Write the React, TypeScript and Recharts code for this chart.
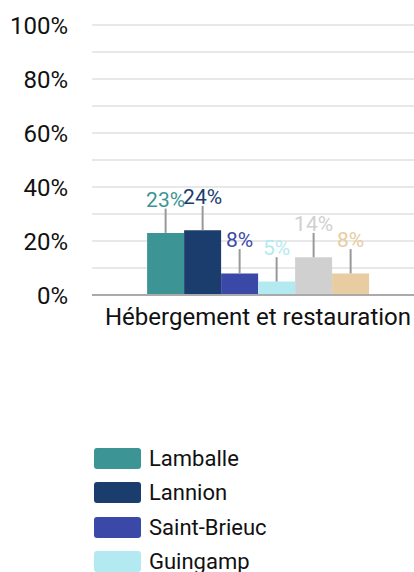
import { BarChart, Bar, XAxis, YAxis, CartesianGrid, Legend, ErrorBar, LabelList } from "recharts"

const category = "Hébergement et restauration"
const towns = ["Lamballe", "Lannion", "Saint-Brieuc", "Guingamp", "Côtes-d'Armor", "Bretagne"]
const colors = ["#3d9494", "#1b3d6e", "#3a48a8", "#b3eaf2", "#d0d0d0", "#e8cca2"]
const values = [23, 24, 8, 5, 14, 8]
const errors = [9, 9, 9, 9, 9, 9]
const yTicks = [0, 10, 20, 30, 40, 50, 60, 70, 80, 90, 100]

const PLOT_TOP = 25
const PLOT_HEIGHT = 270
const pxPerUnit = PLOT_HEIGHT / 100

const row: Record<string, any> = { name: category }
towns.forEach((t, i) => {
  row["v" + i] = values[i]
  row["e" + i] = [0, errors[i]]
})
const data = [row]

function renderLegend() {
  return (
    <div style={{ display: "flex", flexDirection: "column" }}>
      {towns.map((t, i) => (
        <div key={t} style={{ display: "flex", alignItems: "center", height: 34.5 }}>
          <div style={{ width: 47, height: 21, borderRadius: 3, background: colors[i], marginRight: 8 }} />
          <span style={{ fontSize: 22, color: "#111", fontFamily: "Roboto" }}>{t}</span>
        </div>
      ))}
    </div>
  )
}

export default function App() {
  return (
    <div style={{ position: "absolute", left: 0, top: 0, width: 414, height: 572, overflow: "hidden", background: "#fff" }}>
      <BarChart
        width={424}
        height={670}
        data={data}
        margin={{ top: PLOT_TOP, right: 0, left: 0, bottom: 138 }}
        barCategoryGap="16.6%"
        barGap={0}
        style={{ fontFamily: "Roboto" }}
      >
        <CartesianGrid vertical={false} stroke="#e8e8e8" strokeWidth={2} />
        <XAxis
          dataKey="name"
          height={30}
          tickLine={false}
          tickSize={0}
          tickMargin={13}
          stroke="#aaaaaa"
          strokeWidth={2}
          tick={{ fill: "#111", fontSize: 24, width: 420 }}
        />
        <YAxis
          width={92}
          domain={[0, 100]}
          ticks={yTicks}
          interval={0}
          axisLine={false}
          tickLine={false}
          tickSize={0}
          tickMargin={24}
          tick={{ fill: "#111", fontSize: 24 }}
          tickFormatter={(v: number) => (v % 20 === 0 ? v + "%" : "")}
        />
        <Legend
          layout="horizontal"
          verticalAlign="bottom"
          align="left"
          content={renderLegend}
          wrapperStyle={{ top: 441, left: 94, width: 300 }}
        />
        {towns.map((t, i) => (
          <Bar key={t} dataKey={"v" + i} name={t} fill={colors[i]} isAnimationActive={false}>
            <ErrorBar dataKey={"e" + i} width={0} stroke="#999" strokeWidth={2} direction="y" />
            <LabelList
              dataKey={"v" + i}
              content={(p: any) => (
                <text
                  x={p.x + p.width / 2}
                  y={p.y - errors[i] * pxPerUnit - 2}
                  textAnchor="middle"
                  fill={colors[i]}
                  fontSize={21}
                  fontFamily="Roboto"
                >
                  {p.value}%
                </text>
              )}
            />
          </Bar>
        ))}
      </BarChart>
    </div>
  )
}
